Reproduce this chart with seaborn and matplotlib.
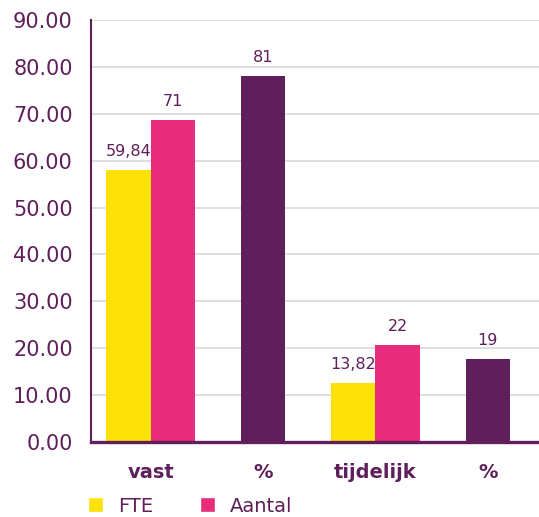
import pandas as pd
import matplotlib.pyplot as plt
import seaborn as sns
from matplotlib.patches import Patch

# categories on the x axis (two "%" columns need unique keys)
cats = ["vast", "% vast", "tijdelijk", "% tijdelijk"]
tick_labels = ["vast", "%", "tijdelijk", "%"]

# FTE / Aantal bars
bar_cats = ["vast", "vast", "tijdelijk", "tijdelijk"]
series = ["FTE", "Aantal", "FTE", "Aantal"]
bar_values = [58.1, 68.6, 12.6, 20.7]
bar_labels = ["59,84", "71", "13,82", "22"]

# percentage bars
pct_cats = ["% vast", "% tijdelijk"]
pct_values = [78.0, 17.7]
pct_labels = ["81", "19"]

yellow = "#FFE10A"
pink = "#E62C7B"
purple = "#5F1F5B"

sns.set_theme(style="whitegrid")
plt.rcParams['font.family'] = ['DejaVu Sans']

df = pd.DataFrame({"cat": bar_cats, "serie": series, "value": bar_values})
df_pct = pd.DataFrame({"cat": pct_cats, "value": pct_values})

fig = plt.figure(figsize=(5.39, 5.17), dpi=100)
ax = fig.add_axes([0.1683, 0.145, 0.8317, 0.8162])

sns.barplot(data=df, x="cat", y="value", hue="serie", order=cats,
            hue_order=["FTE", "Aantal"], palette={"FTE": yellow, "Aantal": pink},
            width=0.79, saturation=1, linewidth=0, errorbar=None, legend=False, ax=ax)
sns.barplot(data=df_pct, x="cat", y="value", order=cats, color=purple,
            width=0.395, saturation=1, linewidth=0, errorbar=None, ax=ax)

# value labels above bars
fte_labels = [l for l, s in zip(bar_labels, series) if s == "FTE"]
aantal_labels = [l for l, s in zip(bar_labels, series) if s == "Aantal"]
for cont, labs in zip(ax.containers, [fte_labels, aantal_labels, pct_labels]):
    ax.bar_label(cont, labels=labs, padding=8, color=purple, fontsize=11.5)

ax.set_xlim(-0.534, 3.455)
ax.set_ylim(0, 90)
ax.set_yticks(range(0, 91, 10))
ax.set_yticklabels([f"{v:.2f}" for v in range(0, 91, 10)])
ax.set_xticks(range(len(cats)))
ax.set_xticklabels(tick_labels)
ax.set_xlabel("")
ax.set_ylabel("")

ax.tick_params(axis="y", length=0, pad=13, labelsize=15, labelcolor=purple)
ax.tick_params(axis="x", length=0, pad=15, labelsize=14, labelcolor=purple)
for t in ax.get_xticklabels():
    t.set_fontweight("bold")

ax.grid(axis="x", visible=False)
ax.grid(axis="y", color="#DCDCDC", linewidth=1.3)
ax.set_axisbelow(True)

for side in ["top", "right"]:
    ax.spines[side].set_visible(False)
ax.spines["left"].set_color(purple)
ax.spines["left"].set_linewidth(1.5)
ax.spines["bottom"].set_color(purple)
ax.spines["bottom"].set_linewidth(2.4)

handles = [Patch(facecolor=yellow, label="FTE"), Patch(facecolor=pink, label="Aantal")]
fig.legend(handles=handles, loc="center left", bbox_to_anchor=(0.163, 0.021),
           ncol=2, frameon=False, fontsize=14, handlelength=0.8, handleheight=0.8,
           handletextpad=0.75, columnspacing=2.4, borderpad=0, borderaxespad=0,
           labelcolor=purple)

fig.savefig("out.png", dpi=100)
